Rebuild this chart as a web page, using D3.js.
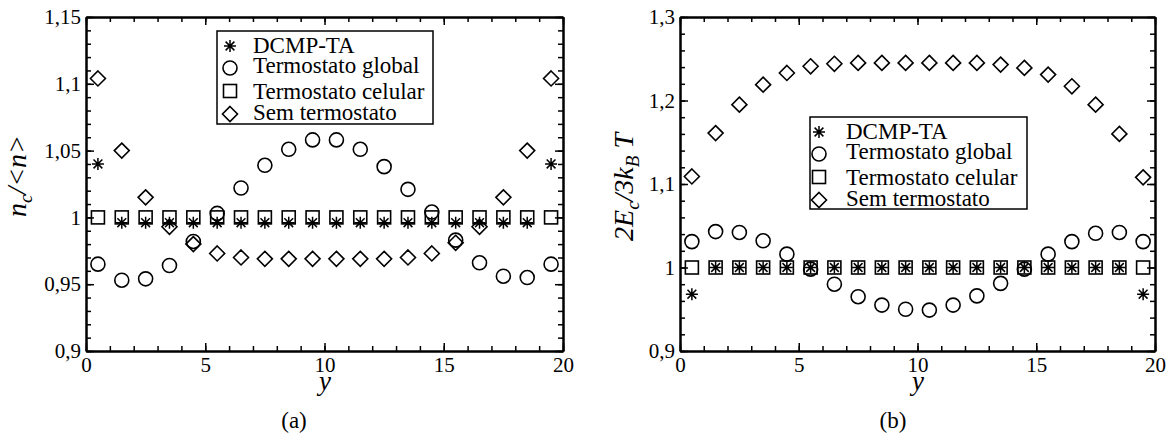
<!DOCTYPE html>
<html>
<head>
<meta charset="utf-8">
<script src="https://d3js.org/d3.v7.min.js"></script>
<style>
  body { margin: 0; background: #fff; }
</style>
</head>
<body>
<svg id="chart" width="1175" height="436" font-family="Liberation Serif"></svg>
<script>
// cell position along y (x axis of both panels)
var cells = [0.5, 1.5, 2.5, 3.5, 4.5, 5.5, 6.5, 7.5, 8.5, 9.5,
             10.5, 11.5, 12.5, 13.5, 14.5, 15.5, 16.5, 17.5, 18.5, 19.5];

// panel (a): n_c / <n>
var nDcmp    = [1.040, 0.996, 0.996, 0.996, 0.996, 0.996, 0.996, 0.996, 0.996, 0.996,
                0.996, 0.996, 0.996, 0.996, 0.996, 0.996, 0.996, 0.996, 0.996, 1.040];
var nGlobal  = [0.965, 0.953, 0.954, 0.964, 0.982, 1.003, 1.022, 1.039, 1.051, 1.058,
                1.058, 1.051, 1.038, 1.021, 1.004, 0.983, 0.966, 0.956, 0.955, 0.965];
var nCelular = [1, 1, 1, 1, 1, 1, 1, 1, 1, 1, 1, 1, 1, 1, 1, 1, 1, 1, 1, 1];
var nSem     = [1.104, 1.050, 1.015, 0.993, 0.980, 0.973, 0.970, 0.969, 0.969, 0.969,
                0.969, 0.969, 0.969, 0.970, 0.973, 0.981, 0.993, 1.015, 1.050, 1.104];

// panel (b): 2E_c / 3k_B T
var eDcmp    = [0.968, 1, 1, 1, 1, 1, 1, 1, 1, 1, 1, 1, 1, 1, 1, 1, 1, 1, 1, 0.968];
var eGlobal  = [1.031, 1.043, 1.042, 1.032, 1.016, 0.998, 0.980, 0.965, 0.955, 0.950,
                0.949, 0.955, 0.966, 0.981, 0.998, 1.016, 1.031, 1.041, 1.042, 1.031];
var eCelular = [1, 1, 1, 1, 1, 1, 1, 1, 1, 1, 1, 1, 1, 1, 1, 1, 1, 1, 1, 1];
var eSem     = [1.109, 1.161, 1.195, 1.219, 1.233, 1.241, 1.244, 1.245, 1.245, 1.245,
                1.245, 1.245, 1.245, 1.243, 1.239, 1.231, 1.217, 1.195, 1.160, 1.108];

var seriesNames = ["DCMP-TA", "Termostato global", "Termostato celular", "Sem termostato"];
var symbols = ["star", "circle", "square", "diamond"];

var xTicks = [0, 5, 10, 15, 20];
var yTicksA = [0.9, 0.95, 1, 1.05, 1.1, 1.15];
var yTicksB = [0.9, 1, 1.1, 1.2, 1.3];

// comma as decimal separator
var fmt = d3.formatLocale({decimal: ",", thousands: ".", grouping: [3], currency: ["", ""]}).format("~g");

var serif = "Liberation Serif";
var svg = d3.select("#chart");

// draw one marker at (0,0) in group g
function marker(g, type) {
  g.attr("fill", "none").attr("stroke", "#000").attr("stroke-width", 1.6);
  if (type == "circle") {
    g.append("circle").attr("r", 7);
  } else if (type == "square") {
    g.append("rect").attr("x", -6.5).attr("y", -6.5).attr("width", 13).attr("height", 13);
  } else if (type == "diamond") {
    g.append("path").attr("d", "M0,-7.5L7.5,0L0,7.5L-7.5,0Z");
  } else {
    var a = 6, b = 4.4;
    g.append("path").attr("stroke-width", 1.5)
      .attr("d", "M0," + -a + "V" + a + "M" + -a + ",0H" + a +
                 "M" + -b + "," + -b + "L" + b + "," + b + "M" + -b + "," + b + "L" + b + "," + -b);
  }
}

function panel(cfg) {
  var x = d3.scaleLinear().domain([0, 20]).range([cfg.x0, cfg.x1]);
  var y = d3.scaleLinear().domain(cfg.yDomain).range([cfg.y1, cfg.y0]);

  var g = svg.append("g");

  // markers
  cfg.series.forEach(function(vals, k) {
    g.append("g").selectAll("g")
      .data(vals)
      .enter()
      .append("g")
      .attr("transform", function(d, i) { return "translate(" + x(cells[i]) + "," + y(d) + ")"; })
      .each(function() { marker(d3.select(this), symbols[k]); });
  });

  // minor ticks
  var minorX = d3.range(0, 21, 1);
  var minorY = d3.range(cfg.yDomain[0], cfg.yDomain[1] + 1e-9, cfg.yMinor);
  g.append("g").attr("transform", "translate(0," + cfg.y1 + ")")
    .call(d3.axisBottom(x).tickValues(minorX).tickSize(-5).tickSizeOuter(0).tickFormat(""));
  g.append("g").attr("transform", "translate(0," + cfg.y0 + ")")
    .call(d3.axisTop(x).tickValues(minorX).tickSize(-5).tickSizeOuter(0).tickFormat(""));
  g.append("g").attr("transform", "translate(" + cfg.x0 + ",0)")
    .call(d3.axisLeft(y).tickValues(minorY).tickSize(-5).tickSizeOuter(0).tickFormat(""));
  g.append("g").attr("transform", "translate(" + cfg.x1 + ",0)")
    .call(d3.axisRight(y).tickValues(minorY).tickSize(-5).tickSizeOuter(0).tickFormat(""));

  // major ticks + labels
  g.append("g").attr("transform", "translate(0," + cfg.y1 + ")")
    .call(d3.axisBottom(x).tickValues(xTicks).tickSize(-8).tickSizeOuter(0).tickPadding(6).tickFormat(d3.format("d")));
  g.append("g").attr("transform", "translate(" + cfg.x0 + ",0)")
    .call(d3.axisLeft(y).tickValues(cfg.yTicks).tickSize(-8).tickSizeOuter(0).tickPadding(5).tickFormat(fmt));
  g.append("g").attr("transform", "translate(0," + cfg.y0 + ")")
    .call(d3.axisTop(x).tickValues(xTicks).tickSize(-8).tickSizeOuter(0).tickFormat(""));
  g.append("g").attr("transform", "translate(" + cfg.x1 + ",0)")
    .call(d3.axisRight(y).tickValues(cfg.yTicks).tickSize(-8).tickSizeOuter(0).tickFormat(""));

  // d3 puts sans-serif on each axis group, swap it
  g.selectAll("g[font-family]").attr("font-family", serif);
  g.selectAll(".domain").attr("stroke-width", 2);
  g.selectAll(".tick line").attr("stroke-width", 1.5);
  g.selectAll(".tick text")
    .style("font-family", serif)
    .attr("font-size", 21);

  // axis titles
  g.append("text")
    .attr("x", cfg.xLabelX).attr("y", 390)
    .attr("text-anchor", "middle")
    .style("font-family", serif)
    .attr("font-size", 27).attr("font-style", "italic")
    .text("y");

  var t = g.append("text")
    .attr("transform", "translate(" + cfg.yTitle[0] + "," + cfg.yTitle[1] + ") rotate(-90)")
    .attr("text-anchor", "middle")
    .style("font-family", serif)
    .attr("font-size", 28).attr("font-style", "italic");
  cfg.yTitleParts.forEach(function(p) {
    var s = t.append("tspan").text(p[0]);
    if (p[1] == "sub") s.attr("font-size", 19).attr("dy", 6);
    if (p[1] == "up") s.attr("dy", -6);
  });

  // panel label
  g.append("text")
    .attr("x", cfg.tag[0]).attr("y", 428)
    .attr("text-anchor", "middle")
    .style("font-family", serif)
    .attr("font-size", 23)
    .text(cfg.tag[2]);

  // legend
  var lg = g.append("g").attr("transform", "translate(" + cfg.legend[0] + "," + cfg.legend[1] + ")");
  lg.append("rect")
    .attr("width", cfg.legend[2]).attr("height", cfg.legend[3])
    .attr("fill", "#fff").attr("stroke", "#000").attr("stroke-width", 1.5);
  var symY = [15, 37, 60, 83];
  var txtY = [21.5, 41.5, 68, 88.5];
  seriesNames.forEach(function(name, k) {
    marker(lg.append("g").attr("transform", "translate(" + cfg.legendSym + "," + symY[k] + ")"), symbols[k]);
    lg.append("text")
      .attr("x", 36).attr("y", txtY[k])
      .style("font-family", serif)
      .attr("font-size", 23)
      .text(name);
  });
}

panel({
  x0: 86, x1: 563, y0: 17, y1: 351,
  yDomain: [0.9, 1.15], yTicks: yTicksA, yMinor: 0.01,
  series: [nDcmp, nGlobal, nCelular, nSem],
  xLabelX: 325,
  yTitle: [26, 176],
  yTitleParts: [["n", ""], ["c", "sub"], ["/<n>", "up"]],
  tag: [294, 0, "(a)"],
  legend: [217, 31, 216, 93], legendSym: 13
});

panel({
  x0: 680, x1: 1155, y0: 17, y1: 351,
  yDomain: [0.9, 1.3], yTicks: yTicksB, yMinor: 0.02,
  series: [eDcmp, eGlobal, eCelular, eSem],
  xLabelX: 918,
  yTitle: [633, 187],
  yTitleParts: [["2E", ""], ["c", "sub"], ["/3k", "up"], ["B", "sub"], ["\u00a0T", "up"]],
  tag: [893, 0, "(b)"],
  legend: [810, 117, 217, 92], legendSym: 9
});
</script>
</body>
</html>
